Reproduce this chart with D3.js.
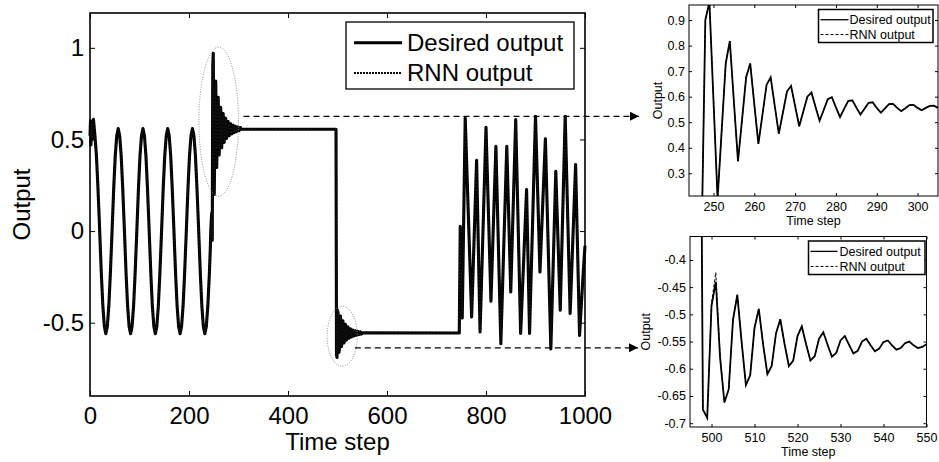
<!DOCTYPE html>
<html>
<head>
<meta charset="utf-8">
<script src="https://cdn.jsdelivr.net/npm/d3@7"></script>
<style>
  html, body { margin: 0; padding: 0; background: #fff; }
  svg { display: block; }
  text { font-family: "Liberation Sans", Arial, Helvetica, sans-serif; fill: #000; }
</style>
</head>
<body>
<svg id="chart" width="939" height="462"></svg>
<script>
// ---------------- data ----------------
// Sinusoidal reference, steps 0-243 : [time step, output]
const sineSegment = [
  [0,0.52],[1,0.6],[2,0.47],[3,0.58],[4,0.5],[5,0.6],[7,0.61],[10,0.52],[13,0.41],[16,0.24],[19,0.04],
  [23,-0.24],[26,-0.41],[29,-0.52],[32,-0.56],[35,-0.52],[38,-0.41],[41,-0.24],[44,-0.04],[48,0.24],
  [51,0.41],[54,0.52],[57,0.56],[60,0.52],[63,0.41],[66,0.24],[69,0.04],[73,-0.24],[76,-0.41],[79,-0.52],
  [82,-0.56],[85,-0.52],[88,-0.41],[91,-0.24],[94,-0.04],[98,0.24],[101,0.41],[104,0.52],[107,0.56],
  [110,0.52],[113,0.41],[116,0.24],[119,0.04],[123,-0.24],[126,-0.41],[129,-0.52],[132,-0.56],[135,-0.52],
  [138,-0.41],[141,-0.24],[144,-0.04],[148,0.24],[151,0.41],[154,0.52],[157,0.56],[160,0.52],[163,0.41],
  [166,0.24],[169,0.04],[173,-0.24],[176,-0.41],[179,-0.52],[182,-0.56],[185,-0.52],[188,-0.41],[191,-0.24],
  [194,-0.04],[198,0.24],[201,0.41],[204,0.52],[207,0.56],[210,0.52],[213,0.41],[216,0.24],[219,0.04],
  [223,-0.24],[226,-0.41],[229,-0.52],[232,-0.56],[235,-0.52],[238,-0.41],[241,-0.24],[243,-0.1]
];

// Transient after the switch to the high constant level (one value per step from step 244)
const transientHighStart = 244;
const transientHighDesired = [
  0.0, 0.06, 0.1, -0.05, 0.90, 0.97, 0.585, 0.20, 0.465, 0.73,
  0.818, 0.58, 0.347, 0.51, 0.676, 0.73, 0.57, 0.415, 0.53, 0.646,
  0.676, 0.565, 0.455, 0.537, 0.62, 0.642, 0.563, 0.484, 0.542, 0.60,
  0.616, 0.56, 0.506, 0.548, 0.59, 0.598, 0.558, 0.52, 0.552, 0.583,
  0.586, 0.557, 0.53, 0.553, 0.576, 0.578, 0.556, 0.537, 0.554, 0.571,
  0.572, 0.556, 0.543, 0.555, 0.567, 0.568, 0.556, 0.547, 0.556, 0.564,
  0.565, 0.556
];
const transientHighRnn = [
  0.0, 0.06, 0.1, -0.05, 0.90, 0.97, 0.587, 0.20, 0.466, 0.731,
  0.818, 0.58, 0.347, 0.51, 0.677, 0.73, 0.57, 0.415, 0.53, 0.646,
  0.676, 0.565, 0.455, 0.537, 0.62, 0.642, 0.563, 0.484, 0.542, 0.60,
  0.616, 0.56, 0.506, 0.548, 0.59, 0.598, 0.558, 0.52, 0.552, 0.583,
  0.586, 0.557, 0.53, 0.553, 0.576, 0.578, 0.556, 0.537, 0.554, 0.571,
  0.572, 0.556, 0.543, 0.555, 0.567, 0.568, 0.556, 0.547, 0.556, 0.564,
  0.565, 0.556
];

// Transient after the switch to the low constant level (one value per step from step 497)
const transientLowStart = 497;
const transientLowDesired = [
  0.556, -0.675, -0.69, -0.485, -0.44, -0.58, -0.662, -0.638, -0.51, -0.464,
  -0.55, -0.63, -0.612, -0.525, -0.49, -0.555, -0.61, -0.595, -0.535, -0.509,
  -0.555, -0.595, -0.585, -0.54, -0.522, -0.555, -0.585, -0.577, -0.545, -0.533,
  -0.556, -0.578, -0.571, -0.548, -0.54, -0.556, -0.572, -0.567, -0.55, -0.545,
  -0.557, -0.568, -0.563, -0.551, -0.548, -0.557, -0.565, -0.562, -0.553, -0.55,
  -0.557, -0.562, -0.56, -0.555
];
const transientLowRnn = [
  0.556, -0.675, -0.69, -0.48, -0.423, -0.575, -0.662, -0.638, -0.51, -0.464,
  -0.55, -0.63, -0.612, -0.525, -0.49, -0.555, -0.61, -0.595, -0.535, -0.509,
  -0.555, -0.595, -0.585, -0.54, -0.522, -0.555, -0.585, -0.577, -0.545, -0.533,
  -0.556, -0.578, -0.571, -0.548, -0.54, -0.556, -0.572, -0.567, -0.55, -0.545,
  -0.557, -0.568, -0.563, -0.551, -0.548, -0.557, -0.565, -0.562, -0.553, -0.55,
  -0.557, -0.562, -0.56, -0.555
];

// Irregular oscillation, steps 746-1000 : [time step, output]
const irregularSegment = [
  [746,-0.556],[748,0.026],[752,-0.474],[758,0.618],[771,-0.468],[781,0.386],[788,-0.55],
  [800,0.566],[810,-0.383],[820,0.463],[830,-0.614],[842,0.463],[850,-0.332],[860,0.608],
  [870,-0.559],[882,0.226],[888,-0.559],[900,0.626],[909,-0.223],[920,0.503],[931,-0.643],
  [941,0.326],[950,-0.432],[960,0.626],[970,-0.45],[981,0.363],[989,-0.57],[997,-0.2],[1000,-0.08]
];

// Axis ticks
const mainXTicks = [0, 200, 400, 600, 800, 1000];
const mainYTicks = [-0.5, 0, 0.5, 1];
const mainYLabels = ["-0.5", "0", "0.5", "1"];
const highXTicks = [250, 260, 270, 280, 290, 300];
const highYTicks = [0.3, 0.4, 0.5, 0.6, 0.7, 0.8, 0.9];
const lowXTicks = [500, 510, 520, 530, 540, 550];
const lowYTicks = [-0.7, -0.65, -0.6, -0.55, -0.5, -0.45, -0.4];
const lowYLabels = ["-0.7", "-0.65", "-0.6", "-0.55", "-0.5", "-0.45", "-0.4"];

const seriesNames = ["Desired output", "RNN output"];

// ---------------- helpers ----------------
const toPoints = (start, vals) => vals.map((v, i) => [start + i, v]);

const mainDesired = [].concat(
  sineSegment,
  toPoints(transientHighStart, transientHighDesired),
  toPoints(transientLowStart, transientLowDesired),
  irregularSegment
);
const mainRnn = [].concat(
  sineSegment,
  toPoints(transientHighStart, transientHighRnn),
  toPoints(transientLowStart, transientLowRnn),
  irregularSegment
);

const svg = d3.select("#chart");
svg.append("rect").attr("width", 939).attr("height", 462).attr("fill", "#fff");

// Draws a boxed axes frame with inward ticks on all four sides
function drawAxes(g, x, y, opt) {
  const [x0, x1] = x.range();
  const [y0, y1] = y.range(); // y0 bottom, y1 top
  const fs = opt.fontSize;

  const bottom = g.append("g").attr("transform", `translate(0,${y0})`)
    .call(d3.axisBottom(x).tickValues(opt.xTicks).tickSizeInner(-opt.tick).tickSizeOuter(0)
      .tickPadding(opt.xPad).tickFormat(d3.format("d")));
  const top = g.append("g").attr("transform", `translate(0,${y1})`)
    .call(d3.axisTop(x).tickValues(opt.xTicks).tickSizeInner(-opt.tick).tickSizeOuter(0).tickFormat(""));
  const left = g.append("g").attr("transform", `translate(${x0},0)`)
    .call(d3.axisLeft(y).tickValues(opt.yTicks).tickSizeInner(-opt.tick).tickSizeOuter(0)
      .tickPadding(opt.yPad).tickFormat((d, i) => opt.yLabels[i]));
  const right = g.append("g").attr("transform", `translate(${x1},0)`)
    .call(d3.axisRight(y).tickValues(opt.yTicks).tickSizeInner(-opt.tick).tickSizeOuter(0).tickFormat(""));

  [bottom, top, left, right].forEach(a => {
    a.select(".domain").remove();
    a.selectAll("line").attr("stroke", "#000").attr("stroke-width", opt.tickWidth);
    a.selectAll("text").style("font-size", fs + "px")
      .style("font-family", '"Liberation Sans", Arial, sans-serif').attr("fill", "#000");
  });

  g.append("rect")
    .attr("x", x0).attr("y", y1).attr("width", x1 - x0).attr("height", y0 - y1)
    .attr("fill", "none").attr("stroke", "#000").attr("stroke-width", opt.frameWidth);

  g.append("text").attr("x", (x0 + x1) / 2).attr("y", opt.xLabelY)
    .attr("text-anchor", "middle").style("font-size", fs + "px").text("Time step");
  g.append("text").attr("transform", `translate(${opt.yLabelX},${(y0 + y1) / 2}) rotate(-90)`)
    .attr("text-anchor", "middle").attr("dy", "0.35em").style("font-size", fs + "px").text("Output");
}

function drawLegend(g, box, opt) {
  g.append("rect").attr("x", box.x).attr("y", box.y).attr("width", box.w).attr("height", box.h)
    .attr("fill", "#fff").attr("stroke", "#000").attr("stroke-width", opt.boxWidth);
  seriesNames.forEach((name, i) => {
    const cy = box.y + box.h * (i === 0 ? 0.31 : 0.76);
    g.append("line").attr("x1", box.x + opt.sx0).attr("x2", box.x + opt.sx1)
      .attr("y1", cy).attr("y2", cy).attr("stroke", "#000")
      .attr("stroke-width", i === 0 ? opt.solidW : opt.dashW)
      .attr("stroke-dasharray", i === 0 ? null : opt.dash);
    g.append("text").attr("x", box.x + opt.tx).attr("y", cy).attr("dy", "0.35em")
      .style("font-size", opt.fontSize + "px").text(name);
  });
}

// ---------------- main axes ----------------
const mx = d3.scaleLinear().domain([0, 1000]).range([90, 585]);
const my = d3.scaleLinear().domain([-0.9, 1.19]).range([396, 13]);

const mainG = svg.append("g");
const mainLine = d3.line().x(d => mx(d[0])).y(d => my(d[1]));

mainG.append("path").datum(mainDesired).attr("d", mainLine)
  .attr("fill", "none").attr("stroke", "#000").attr("stroke-width", 3.1).attr("stroke-linejoin", "round");
mainG.append("path").datum(mainRnn).attr("d", mainLine)
  .attr("fill", "none").attr("stroke", "#111").attr("stroke-width", 1.6).attr("stroke-dasharray", "2,1.5");

drawAxes(mainG, mx, my, {
  xTicks: mainXTicks, yTicks: mainYTicks, yLabels: mainYLabels,
  tick: 5, xPad: 10.5, yPad: 6, fontSize: 24, tickWidth: 1, frameWidth: 1.6,
  xLabelY: 450, yLabelX: 22
});

drawLegend(mainG, { x: 346, y: 22, w: 228, h: 67 }, {
  sx0: 8, sx1: 56, tx: 61, fontSize: 24, solidW: 2.8, dashW: 2, dash: "2,1", boxWidth: 1.3
});

// zoom-region markers and arrows
const marks = svg.append("g");
marks.append("ellipse").attr("cx", mx(260)).attr("cy", my(0.597))
  .attr("rx", mx(300) - mx(260)).attr("ry", my(0.19) - my(0.597))
  .attr("fill", "none").attr("stroke", "#888").attr("stroke-width", 1).attr("stroke-dasharray", "1,1.5");
marks.append("ellipse").attr("cx", mx(509.5)).attr("cy", my(-0.574))
  .attr("rx", mx(540) - mx(509.5)).attr("ry", my(-0.738) - my(-0.574))
  .attr("fill", "none").attr("stroke", "#888").attr("stroke-width", 1).attr("stroke-dasharray", "1,1.5");

svg.append("defs").append("marker").attr("id", "arrowHead")
  .attr("viewBox", "0 0 10 10").attr("refX", 10).attr("refY", 5)
  .attr("markerWidth", 9).attr("markerHeight", 10).attr("markerUnits", "userSpaceOnUse")
  .attr("orient", "auto")
  .append("path").attr("d", "M0,0 L10,5 L0,10 Z").attr("fill", "#000");

marks.append("line").attr("x1", mx(310)).attr("x2", 639)
  .attr("y1", my(0.626)).attr("y2", my(0.626))
  .attr("stroke", "#000").attr("stroke-width", 1.3).attr("stroke-dasharray", "6,4")
  .attr("marker-end", "url(#arrowHead)");
marks.append("line").attr("x1", mx(535)).attr("x2", 638)
  .attr("y1", my(-0.637)).attr("y2", my(-0.637))
  .attr("stroke", "#000").attr("stroke-width", 1.3).attr("stroke-dasharray", "6,4")
  .attr("marker-end", "url(#arrowHead)");

// ---------------- inset: high-level transient ----------------
const hx = d3.scaleLinear().domain([244, 305]).range([689, 938]);
const hy = d3.scaleLinear().domain([0.211, 0.959]).range([196, 5]);
const highG = svg.append("g");
const defs = svg.select("defs");
defs.append("clipPath").attr("id", "clipHigh").append("rect")
  .attr("x", 689).attr("y", 5).attr("width", 249).attr("height", 191);
const highLine = d3.line().x(d => hx(d[0])).y(d => hy(d[1]));
highG.append("path").datum(toPoints(transientHighStart, transientHighDesired)).attr("d", highLine)
  .attr("clip-path", "url(#clipHigh)").attr("fill", "none").attr("stroke", "#000").attr("stroke-width", 1.8);
highG.append("path").datum(toPoints(transientHighStart, transientHighRnn)).attr("d", highLine)
  .attr("clip-path", "url(#clipHigh)").attr("fill", "none").attr("stroke", "#000").attr("stroke-width", 1)
  .attr("stroke-dasharray", "3,2");
drawAxes(highG, hx, hy, {
  xTicks: highXTicks, yTicks: highYTicks, yLabels: highYTicks.map(String),
  tick: 3, xPad: 6, yPad: 4, fontSize: 12.5, tickWidth: 1, frameWidth: 1,
  xLabelY: 224.5, yLabelX: 658
});
drawLegend(highG, { x: 818.5, y: 9.5, w: 114.5, h: 33 }, {
  sx0: 2, sx1: 30, tx: 31, fontSize: 12.5, solidW: 1.3, dashW: 1, dash: "3,2", boxWidth: 1.5
});

// ---------------- inset: low-level transient ----------------
const lx = d3.scaleLinear().domain([495, 550]).range([690, 926.5]);
const ly = d3.scaleLinear().domain([-0.707, -0.357]).range([427, 236.5]);
const lowG = svg.append("g");
defs.append("clipPath").attr("id", "clipLow").append("rect")
  .attr("x", 690).attr("y", 236.5).attr("width", 236.5).attr("height", 190.5);
const lowLine = d3.line().x(d => lx(d[0])).y(d => ly(d[1]));
lowG.append("path").datum(toPoints(transientLowStart, transientLowDesired)).attr("d", lowLine)
  .attr("clip-path", "url(#clipLow)").attr("fill", "none").attr("stroke", "#000").attr("stroke-width", 1.8);
lowG.append("path").datum(toPoints(transientLowStart, transientLowRnn)).attr("d", lowLine)
  .attr("clip-path", "url(#clipLow)").attr("fill", "none").attr("stroke", "#000").attr("stroke-width", 1)
  .attr("stroke-dasharray", "3,2");
drawAxes(lowG, lx, ly, {
  xTicks: lowXTicks, yTicks: lowYTicks, yLabels: lowYLabels,
  tick: 3, xPad: 6, yPad: 4, fontSize: 12.5, tickWidth: 1, frameWidth: 1,
  xLabelY: 455.5, yLabelX: 646
});
drawLegend(lowG, { x: 808.5, y: 241, w: 116.5, h: 33.5 }, {
  sx0: 2, sx1: 29, tx: 31, fontSize: 12.5, solidW: 1.3, dashW: 1, dash: "3,2", boxWidth: 1.5
});
</script>
</body>
</html>
